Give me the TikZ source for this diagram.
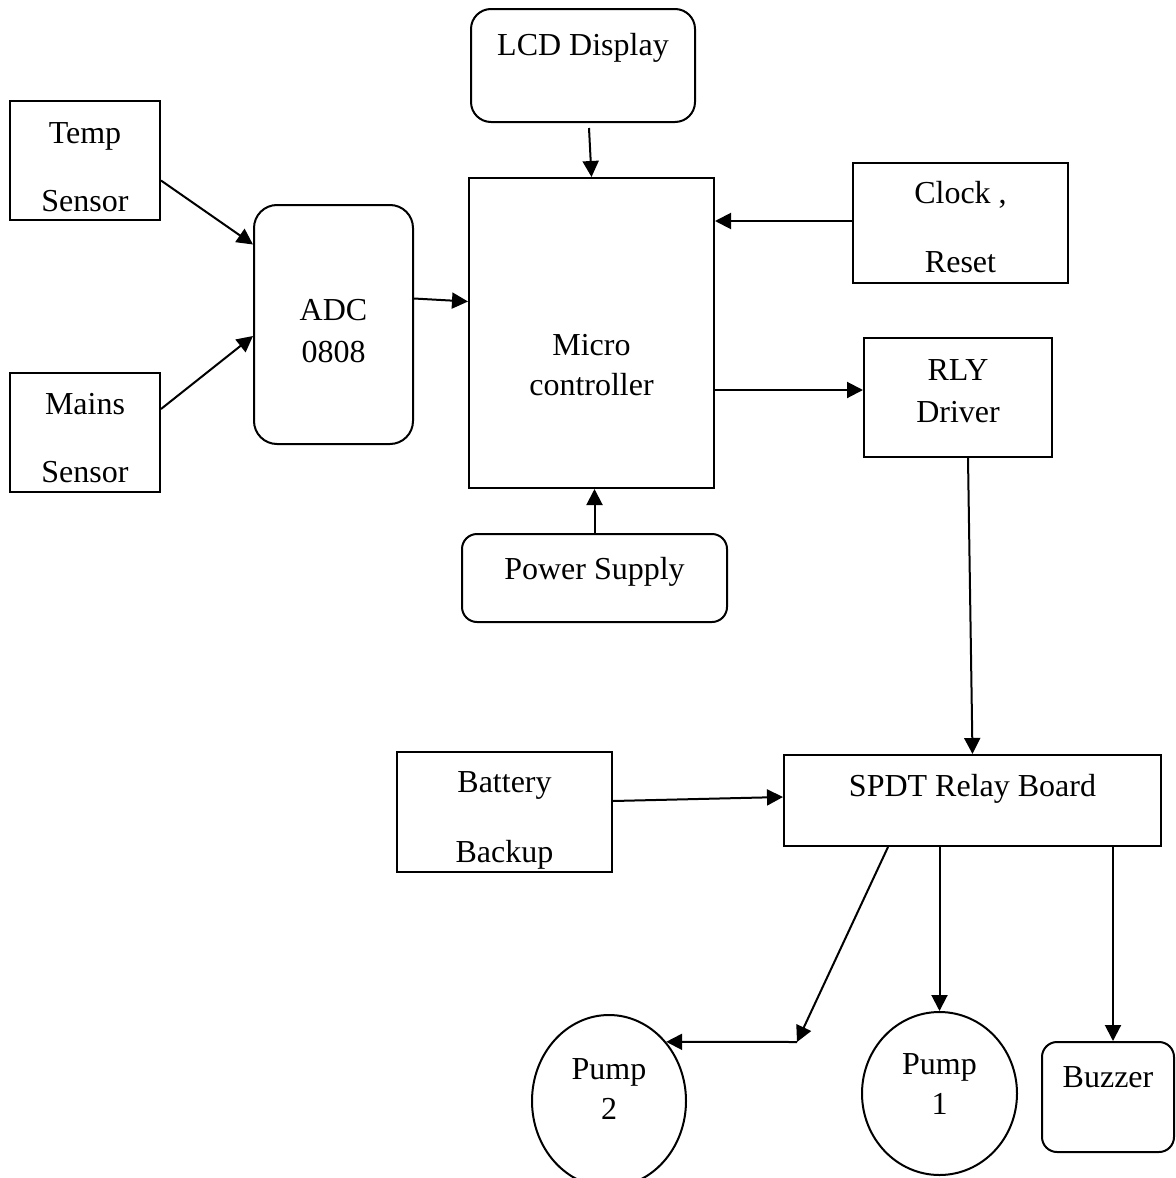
\documentclass[tikz,border=0pt]{standalone}
\usepackage{fontspec}
\setmainfont{Liberation Serif}
\usetikzlibrary{arrows.meta, positioning, shapes.geometric}
\newcommand{\padtop}[1]{\rule{0pt}{#1}}
\newcommand{\padbot}[1]{\rule[-#1]{0pt}{#1}}

\begin{document}
\begin{tikzpicture}[x=0.5pt, y=-0.5pt, line width=1pt,
    every node/.style={font=\fontsize{16}{21}\selectfont, align=center, inner sep=0.5pt},
    blk/.style={draw, rectangle},
    rblk/.style={draw, rectangle, rounded corners=#1},
    rblk/.default=7.5pt,
    pump/.style={draw, ellipse},
    arr/.style={-{Triangle[length=8pt, width=8pt]}}]
    \clip (0,0) rectangle (1175,1178);
    % sensors and converter
    \node[blk, minimum width=75pt, minimum height=59.5pt] (temp) at (85,160.5) {\padtop{17.3pt}Temp\\[13pt]Sensor};
    \node[blk, minimum width=75pt, minimum height=59.5pt, below=75.5pt of temp] (mains) {\padtop{16.3pt}Mains\\[13pt]Sensor};
    \node[rblk=11.5pt, minimum width=79.5pt, minimum height=119.5pt] (adc) at (333.5,324.5) {\padtop{17.3pt}ADC\\0808};
    % controller block
    \node[rblk=10pt, minimum width=112pt, minimum height=56.5pt] (lcd) at (583,65.5) {LCD Display\padbot{20.9pt}};
    \node[blk, minimum width=122.5pt, minimum height=155pt] (micro) at (591.5,333) {\padtop{42.6pt}Micro\\[-1pt]controller};
    \node[blk, minimum width=107.5pt, minimum height=60pt] (clock) at (960.5,223) {\padtop{15.1pt}Clock ,\\[13.5pt]Reset};
    \node[blk, minimum width=94pt, minimum height=59.5pt, below=26.5pt of clock, xshift=-1.25pt] (rly) {RLY\\Driver\padbot{6.9pt}};
    \node[rblk, minimum width=132.5pt, minimum height=44pt, below=22pt of micro, xshift=1.5pt] (power) {Power Supply\padbot{9.4pt}};
    % relay and loads
    \node[blk, minimum width=188.5pt, minimum height=45.5pt] (spdt) at (972.5,800.5) {SPDT Relay Board\padbot{14.9pt}};
    \node[blk, minimum width=107.5pt, minimum height=60pt] (battery) at (504.5,812) {\padtop{19.1pt}Battery\\[14pt]Backup};
    \node[pump, minimum width=77pt, minimum height=86pt] (pump2) at (609,1101) {Pump\\[-1pt]2\padbot{12.4pt}};
    \node[pump, minimum width=77.5pt, minimum height=81.5pt] (pump1) at (939.5,1093.5) {Pump\\[-1pt]1\padbot{9.4pt}};
    \node[rblk, minimum width=66pt, minimum height=55pt] (buzzer) at (1108,1097) {Buzzer\padbot{20.4pt}};
    \coordinate (split) at (797,1042);

    \draw[arr] ([yshift=-10pt]temp.east) -- ([yshift=40pt]adc.west);
    \draw[arr] ([yshift=11.75pt]mains.east) -- ([yshift=-5.75pt]adc.west);
    \draw[arr] ([yshift=13pt]adc.east) -- ([yshift=11.5pt]adc.east -| micro.west);
    \draw[arr] ([xshift=3pt, yshift=-2.5pt]lcd.south) -- (micro.north);
    \draw[arr] ([yshift=1pt]clock.west) -- ([yshift=1pt]clock.west -| micro.east);
    \draw[arr] ([yshift=3.75pt]rly.west -| micro.east) -- ([yshift=3.75pt]rly.west);
    \draw[arr] (power.north) -- (power.north |- micro.south);
    \draw[arr] ([xshift=5pt]rly.south) -- (spdt.north);
    \draw[arr] ([yshift=5.5pt]battery.east) -- ([yshift=1.75pt]spdt.west);
    \draw[arr] (pump1.north |- spdt.south) -- (pump1.north);
    \draw[arr] ([xshift=2.5pt]buzzer.north |- spdt.south) -- ([xshift=2.5pt]buzzer.north);
    \draw[arr] ([xshift=-42.25pt]spdt.south) -- (split);
    \draw[arr] (split) -- (pump2.46);
\end{tikzpicture}
\end{document}
